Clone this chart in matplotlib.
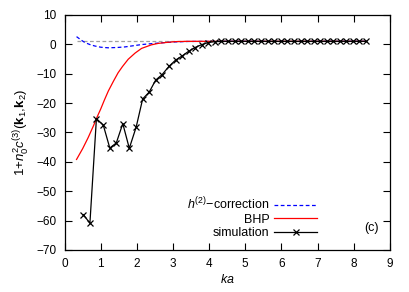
"""
Three-body correlation vs ka
Compares simulation with BHP and the h(2)-correction
"""

import matplotlib
matplotlib.use("Agg")
import matplotlib.pyplot as plt

# simulation points
ka_sim = [0.52, 0.70, 0.88, 1.07, 1.25, 1.43, 1.61, 1.79, 1.98, 2.16,
          2.34, 2.52, 2.70, 2.89, 3.07, 3.25, 3.43, 3.61, 3.80, 3.98,
          4.16, 4.34, 4.52, 4.71, 4.89, 5.07, 5.25, 5.43, 5.62, 5.80,
          5.98, 6.16, 6.34, 6.53, 6.71, 6.89, 7.07, 7.25, 7.44, 7.62,
          7.80, 7.98, 8.16, 8.34]
val_sim = [-58.0, -60.9, -25.3, -27.5, -35.3, -33.6, -27.0, -35.4, -28.2, -18.6,
           -16.3, -12.2, -10.3, -7.5, -5.4, -4.0, -2.4, -1.1, -0.1, 0.6,
           0.9, 1.0, 1.0, 1.0, 1.0, 1.0, 1.0, 1.0, 1.0, 1.0,
           1.0, 1.0, 1.0, 1.0, 1.0, 1.0, 1.0, 1.0, 1.0, 1.0,
           1.0, 1.0, 1.0, 1.0]

# BHP curve
ka_bhp = [0.33, 0.5, 0.65, 0.8, 0.89, 1.0, 1.1, 1.21, 1.35, 1.48, 1.6, 1.76,
          1.95, 2.13, 2.4, 2.59, 2.8, 3.06, 3.4, 3.8, 4.5, 5.5, 6.5, 7.5, 8.34]
val_bhp = [-39.2, -35.5, -31.8, -27.7, -25.0, -22.0, -19.0, -15.9, -12.6, -9.7,
           -7.6, -5.1, -3.0, -1.4, -0.2, 0.3, 0.6, 0.9, 1.0, 1.0, 1.0, 1.0,
           1.0, 1.0, 1.0]

# h(2)-correction curve
ka_h2 = [0.33, 0.45, 0.56, 0.7, 0.84, 1.0, 1.2, 1.45, 1.67, 1.9, 2.13, 2.4,
         2.59, 2.8, 3.06, 3.4, 4.0, 5.0, 6.0, 7.0, 8.34]
val_h2 = [2.6, 1.5, 0.6, -0.1, -0.6, -1.0, -1.2, -1.1, -0.9, -0.5, -0.1, 0.2,
          0.4, 0.6, 0.8, 0.95, 1.0, 1.0, 1.0, 1.0, 1.0]

# asymptote
ka_ref = [0.33, 8.34]
val_ref = [1.0, 1.0]

x_ticks = [0, 1, 2, 3, 4, 5, 6, 7, 8, 9]
y_ticks = [10, 0, -10, -20, -30, -40, -50, -60, -70]


def plot_correlation(save_path: str = "out.png"):
    """Draw the comparison plot and save it."""
    plt.rcParams['font.family'] = ['Liberation Sans', 'DejaVu Sans']
    plt.rcParams['mathtext.fontset'] = 'custom'
    plt.rcParams['mathtext.rm'] = 'Liberation Sans'
    plt.rcParams['mathtext.it'] = 'Liberation Sans:italic'
    plt.rcParams['mathtext.bf'] = 'Liberation Sans:bold'

    fig = plt.figure(figsize=(4.09, 2.92), dpi=100)
    ax = fig.add_axes([0.158, 0.144, 0.795, 0.805])

    ax.plot(ka_ref, val_ref, color='#a0a0a0', linestyle=(0, (3, 2)), linewidth=0.9)
    ax.plot(ka_h2, val_h2, color='#0000ff', linestyle=(0, (3, 2)), linewidth=0.9,
            label=r'$h^{(2)}$$-$correction')
    ax.plot(ka_bhp, val_bhp, color='#ff0000', linewidth=0.9, label='BHP')
    ax.plot(ka_sim, val_sim, color='black', linewidth=0.9, marker='x',
            markersize=4.5, markeredgewidth=0.9, label='simulation')

    ax.set_xlim(0, 9)
    ax.set_ylim(-70, 10)
    ax.set_xticks(x_ticks)
    ax.set_yticks(y_ticks)
    ax.set_yticklabels([f"{v}".replace('-', '\u2212') for v in y_ticks])
    ax.tick_params(direction='in', length=5, width=0.8, top=True, right=True,
                   labelsize=8.5, pad=6)
    for sp in ax.spines.values():
        sp.set_linewidth(0.9)

    ax.set_xlabel(r'$ka$', fontsize=9, labelpad=2)
    ax.set_ylabel(r'1+$n_0^2c^{(3)}$($\mathbf{k}_1$,$\mathbf{k}_2$)', fontsize=9.5,
                  labelpad=3)

    ax.legend(loc='upper right', bbox_to_anchor=(0.776, 0.23), frameon=False,
              markerfirst=False, fontsize=9, handlelength=3.4, handletextpad=0.4,
              labelspacing=0.1, borderpad=0, borderaxespad=0, numpoints=1)

    ax.text(0.965, 0.094, '(c)', transform=ax.transAxes, ha='right', va='center',
            fontsize=9)

    fig.savefig(save_path, dpi=100)
    plt.close(fig)


if __name__ == "__main__":
    plot_correlation()
